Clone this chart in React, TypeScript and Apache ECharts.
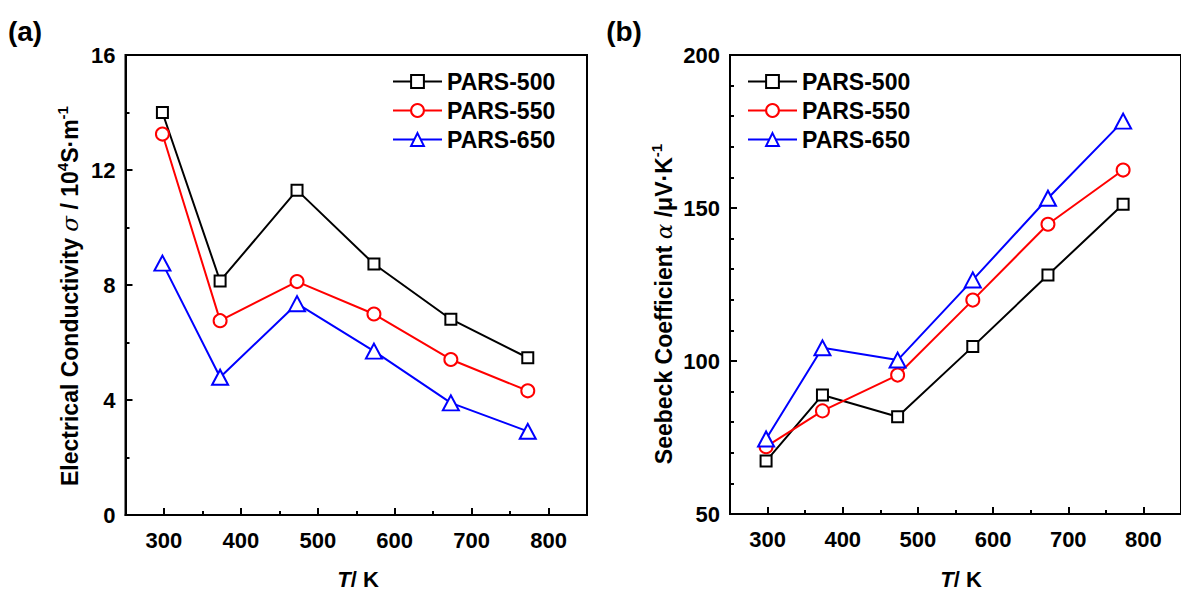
import React, { useEffect, useRef } from "react";
import * as echarts from "echarts";

// ---- data ----
const temperatures = [298, 373, 473, 573, 673, 773];
const seriesNames = ["PARS-500", "PARS-550", "PARS-650"];

const sigmaPARS500 = [14.0, 8.14, 11.3, 8.73, 6.81, 5.47];
const sigmaPARS550 = [13.25, 6.76, 8.12, 6.99, 5.41, 4.32];
const sigmaPARS650 = [8.76, 4.79, 7.35, 5.7, 3.9, 2.91];

const seebeckPARS500 = [67.3, 88.9, 81.8, 104.7, 128.1, 151.2];
const seebeckPARS550 = [72.0, 83.7, 95.4, 119.9, 144.7, 162.4];
const seebeckPARS650 = [74.5, 104.3, 100.3, 126.5, 153.2, 178.4];

const xTickLabels = [300, 400, 500, 600, 700, 800];

// ---- styles ----
const FONT = "'Liberation Sans', Arial, Helvetica, sans-serif";
const seriesColors = ["#000000", "#ff0000", "#0000ff"];
const seriesSymbols = ["emptyRect", "emptyCircle", "emptyTriangle"];
const seriesSymbolSizes: any[] = [11, 13, [16, 15]];

function makeSeries(valuesList: number[][], grid: number) {
  return valuesList.map((vals, i) => ({
    type: "line",
    name: seriesNames[i],
    xAxisIndex: grid * 2,
    yAxisIndex: grid,
    data: temperatures.map((t, k) => [t, vals[k]]),
    symbol: seriesSymbols[i],
    symbolSize: seriesSymbolSizes[i],
    color: seriesColors[i],
    lineStyle: { width: 2, color: seriesColors[i] },
    itemStyle: { color: seriesColors[i], borderWidth: 2 },
    z: 5,
  }));
}

function xAxesFor(grid: number) {
  return [
    {
      gridIndex: grid,
      type: "value",
      min: 250,
      max: 850,
      position: "bottom",
      axisLine: { show: true, onZero: false, lineStyle: { color: "#000", width: 2 } },
      axisTick: {
        show: true,
        inside: true,
        length: 7,
        lineStyle: { color: "#000", width: 2 },
        customValues: xTickLabels,
      },
      axisLabel: {
        customValues: xTickLabels,
        margin: 14,
        color: "#000",
        fontSize: 22,
        fontWeight: "bold",
        fontFamily: FONT,
      },
      splitLine: { show: false },
    },
    {
      gridIndex: grid,
      type: "value",
      min: 250,
      max: 850,
      interval: 50,
      position: "bottom",
      axisLine: { show: false, onZero: false },
      axisTick: { show: true, inside: true, length: 4, lineStyle: { color: "#000", width: 2 } },
      axisLabel: { show: false },
      splitLine: { show: false },
    },
  ];
}

function yAxisFor(grid: number, min: number, max: number, interval: number, minorSplit: number) {
  return {
    gridIndex: grid,
    type: "value",
    min,
    max,
    interval,
    axisLine: { show: true, onZero: false, lineStyle: { color: "#000", width: 2 } },
    axisTick: { show: true, inside: true, length: 7, lineStyle: { color: "#000", width: 2 } },
    minorTick: { show: true, splitNumber: minorSplit, length: 4, lineStyle: { color: "#000", width: 2 } },
    axisLabel: {
      margin: 10,
      color: "#000",
      fontSize: 22,
      fontWeight: "bold",
      fontFamily: FONT,
    },
    splitLine: { show: false },
    minorSplitLine: { show: false },
  };
}

function legendFor(left: number) {
  return {
    show: true,
    orient: "vertical",
    left,
    top: 70,
    padding: 0,
    itemGap: 6,
    itemWidth: 49,
    itemHeight: 16,
    data: seriesNames,
    textStyle: {
      color: "#000",
      fontSize: 23,
      fontWeight: "bold",
      fontFamily: FONT,
      lineHeight: 23,
    },
  };
}

const rich = {
  b: { fontSize: 23, fontWeight: "bold", fontFamily: FONT, color: "#000", lineHeight: 30 },
  g: { fontSize: 23, fontStyle: "italic", fontFamily: "'DejaVu Serif', serif", color: "#000", lineHeight: 30 },
  s: { fontSize: 15, fontWeight: "bold", fontFamily: FONT, color: "#000", verticalAlign: "top", lineHeight: 13 },
  i: { fontSize: 22, fontWeight: "bold", fontStyle: "italic", fontFamily: FONT, color: "#000", lineHeight: 21 },
  k: { fontSize: 22, fontWeight: "bold", fontFamily: FONT, color: "#000", lineHeight: 21 },
};

export default function App() {
  const ref = useRef<HTMLDivElement>(null);

  useEffect(() => {
    if (!ref.current) return;
    const chart = echarts.init(ref.current, null, { renderer: "svg" });
    const option: any = {
      animation: false,
      backgroundColor: "#ffffff",
      grid: [
        { left: 125.5, top: 55, width: 461.5, height: 460, show: true, borderColor: "#000", borderWidth: 2, containLabel: false },
        { left: 730, top: 55, width: 462, height: 459, show: true, borderColor: "#000", borderWidth: 2, containLabel: false },
      ],
      xAxis: [...xAxesFor(0), ...xAxesFor(1)],
      yAxis: [yAxisFor(0, 0, 16, 4, 2), yAxisFor(1, 50, 200, 50, 5)],
      legend: [legendFor(392), legendFor(747)],
      series: [
        ...makeSeries([sigmaPARS500, sigmaPARS550, sigmaPARS650], 0),
        ...makeSeries([seebeckPARS500, seebeckPARS550, seebeckPARS650], 1),
      ],
      graphic: [
        {
          type: "text",
          x: 25,
          y: 31,
          style: { text: "(a)", fontSize: 28, fontWeight: "bold", fontFamily: FONT, fill: "#000", align: "center", verticalAlign: "middle" },
        },
        {
          type: "text",
          x: 624,
          y: 31,
          style: { text: "(b)", fontSize: 28, fontWeight: "bold", fontFamily: FONT, fill: "#000", align: "center", verticalAlign: "middle" },
        },
        {
          type: "text",
          x: 358,
          y: 579,
          style: { text: "{i|T}{k|/ K}", rich, align: "center", verticalAlign: "middle" },
        },
        {
          type: "text",
          x: 961,
          y: 579,
          style: { text: "{i|T}{k|/ K}", rich, align: "center", verticalAlign: "middle" },
        },
        {
          type: "text",
          x: 70,
          y: 296,
          rotation: Math.PI / 2,
          style: {
            text: "{b|Electrical Conductivity }{g|σ}{b| / 10}{s|4}{b|S·m}{s|-1}",
            rich,
            align: "center",
            verticalAlign: "middle",
          },
        },
        {
          type: "text",
          x: 664,
          y: 304,
          rotation: Math.PI / 2,
          style: {
            text: "{b|Seebeck Coefficient }{g|α}{b| /μV·K}{s|-1}",
            rich,
            align: "center",
            verticalAlign: "middle",
          },
        },
      ],
    };
    chart.setOption(option);
    return () => chart.dispose();
  }, []);

  return (
    <div
      ref={ref}
      style={{ position: "fixed", left: 0, top: 0, width: 1181, height: 592, background: "#fff" }}
    />
  );
}
